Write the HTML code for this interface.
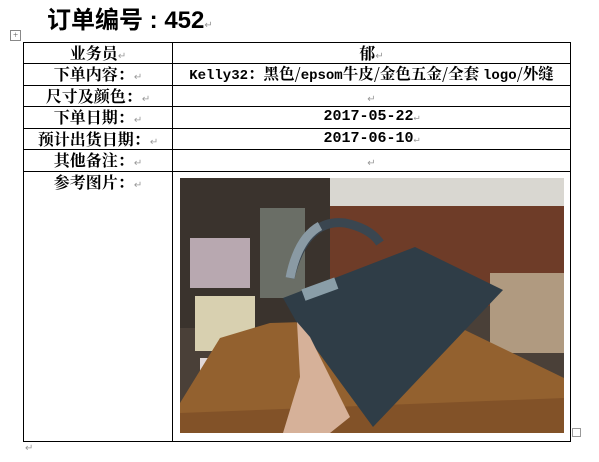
<!DOCTYPE html>
<html><head><meta charset="utf-8"><style>
html,body{margin:0;padding:0;background:#fff;}
body{width:599px;height:462px;position:relative;overflow:hidden;font-family:"Liberation Serif","Noto Serif CJK SC","Noto Sans CJK SC",serif;}
.t{position:absolute;left:47px;top:6px;font-family:"Liberation Sans","Noto Sans CJK SC",sans-serif;font-weight:bold;font-size:24px;line-height:30px;color:#000;}
.h{position:absolute;left:0;width:599px;height:1px;background:#000;}
.v{position:absolute;top:42px;width:1px;height:400px;background:#000;}
.c{position:absolute;font-size:16px;line-height:21px;text-align:center;color:#000;white-space:nowrap;font-family:"Noto Serif CJK SC","Liberation Serif",serif;font-weight:bold;}
.m{color:#999;font-size:10px;font-weight:normal;}
.mono{font-family:"Liberation Mono","Noto Serif CJK SC",monospace;}
</style></head><body>
<div class="t">订单编号 : 452<span class="m">↵</span></div>
<div style="position:absolute;left:10px;top:30px;width:9px;height:9px;border:1px solid #888;font-size:9px;line-height:9px;text-align:center;color:#555">+</div>
<div class="h" style="left:23px;width:548px;top:42px"></div>
<div class="h" style="left:23px;width:548px;top:63px"></div>
<div class="h" style="left:23px;width:548px;top:85px"></div>
<div class="h" style="left:23px;width:548px;top:106px"></div>
<div class="h" style="left:23px;width:548px;top:128px"></div>
<div class="h" style="left:23px;width:548px;top:149px"></div>
<div class="h" style="left:23px;width:548px;top:171px"></div>
<div class="h" style="left:23px;width:548px;top:441px"></div>
<div class="v" style="left:23px"></div>
<div class="v" style="left:172px"></div>
<div class="v" style="left:570px"></div>
<div class="c" style="left:24px;width:148px;top:42px">业务员<span class="m">↵</span></div>
<div class="c" style="left:24px;width:148px;top:63px">下单内容：<span class="m">↵</span></div>
<div class="c" style="left:24px;width:148px;top:85px">尺寸及颜色：<span class="m">↵</span></div>
<div class="c" style="left:24px;width:148px;top:106px">下单日期：<span class="m">↵</span></div>
<div class="c" style="left:24px;width:148px;top:128px">预计出货日期：<span class="m">↵</span></div>
<div class="c" style="left:24px;width:148px;top:149px">其他备注：<span class="m">↵</span></div>
<div class="c" style="left:24px;width:148px;top:171px">参考图片：<span class="m">↵</span></div>
<div class="c" style="left:173px;width:397px;top:42px">郁<span class="m">↵</span></div>
<div class="c" style="left:173px;width:397px;top:63px;font-size:15.5px"><span class="mono" style="font-size:14px">Kelly32</span>：黑色/<span class="mono" style="font-size:14px">epsom</span>牛皮/金色五金/全套 <span class="mono" style="font-size:14px">logo</span>/外缝</div>
<div class="c" style="left:173px;width:397px;top:85px"><span class="m">↵</span></div>
<div class="c mono" style="left:173px;width:397px;top:106px;font-size:15px">2017-05-22<span class="m">↵</span></div>
<div class="c mono" style="left:173px;width:397px;top:128px;font-size:15px">2017-06-10<span class="m">↵</span></div>
<div class="c" style="left:173px;width:397px;top:149px"><span class="m">↵</span></div>
<svg style="position:absolute;left:180px;top:178px" width="384" height="255" viewBox="0 0 384 255">
<rect width="384" height="255" fill="#4a4038"/>
<rect x="0" y="0" width="150" height="150" fill="#3a332d"/>
<rect x="150" y="0" width="234" height="32" fill="#d9d7d1"/>
<rect x="150" y="28" width="234" height="100" fill="#6e3c28"/>
<rect x="310" y="95" width="74" height="80" fill="#b09a80"/>
<rect x="10" y="60" width="60" height="50" fill="#b8a8b0"/>
<rect x="15" y="118" width="60" height="55" fill="#d8d0b0"/>
<rect x="20" y="180" width="45" height="40" fill="#e0d8d8"/>
<rect x="80" y="30" width="45" height="90" fill="#6a6e66"/>
<polygon points="0,255 0,225 40,160 90,145 260,140 384,200 384,255" fill="#93612f"/>
<polygon points="0,255 0,235 384,220 384,255" fill="#825228"/>
<polygon points="103,120 235,69 323,112 193,249 117,145" fill="#2f3d47"/>
<path d="M110,100 Q125,40 165,45 Q190,50 200,65" stroke="#3a4650" stroke-width="9" fill="none"/>
<path d="M110,100 Q118,60 140,48" stroke="#8a9aa4" stroke-width="9" fill="none"/>
<rect x="122" y="105" width="35" height="12" fill="#8a9ea8" transform="rotate(-20 140 110)"/>
<polygon points="117,144 130,159 170,239 150,255 103,255 120,199" fill="#d6b199"/>
</svg>
<div style="position:absolute;left:572px;top:428px;width:7px;height:7px;border:1px solid #999"></div>
<div style="position:absolute;left:25px;top:443px;font-size:10px;color:#999">↵</div>
</body></html>
